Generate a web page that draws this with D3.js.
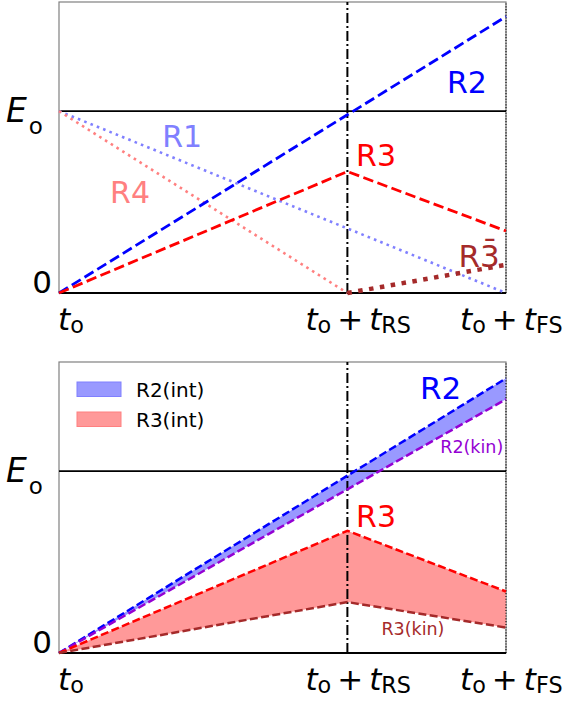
<!DOCTYPE html>
<html>
<head>
<meta charset="utf-8">
<script src="https://cdn.jsdelivr.net/npm/d3@7"></script>
<style>
  html, body { margin: 0; padding: 0; background: #fff; }
  svg { display: block; font-family: "DejaVu Sans", sans-serif; }
</style>
</head>
<body>
<div id="chart"></div>
<script>
// Energy budget sketch: two stacked panels sharing the same time axis.

const E0 = 1;
const T_RS = 1.0;
const T_FS = 1.55;
const times = [0, T_RS, T_FS];

// top panel (values in units of E0, at t0, t0+tRS, t0+tFS)
const topR1 = [1, 0.355, 0];
const topR2 = [0, 0.98, 1.52];
const topR3 = [0, 0.668, 0.341];
const topR4 = [1, 0, null];
const topR3bar = [null, 0, 0.155];

// bottom panel
const botR2int = [0, 0.975, 1.51];
const botR2kin = [0, 0.9, 1.395];
const botR3int = [0, 0.672, 0.338];
const botR3kin = [0, 0.28, 0.14];

const xTickValues = [0, T_RS, T_FS];
const xTickLabels = [
    [['t', 'i'], ['o', 's']],
    [['t', 'i'], ['o', 's'], ['+', 'n'], ['t', 'i'], ['RS', 's']],
    [['t', 'i'], ['o', 's'], ['+', 'n'], ['t', 'i'], ['FS', 's']],
];
const legendLabels = ['R2(int)', 'R3(int)'];

const W = 568, H = 701;
const svg = d3.select('#chart').append('svg').attr('width', W).attr('height', H);
svg.append('rect').attr('width', W).attr('height', H).attr('fill', '#fff');

const x = d3.scaleLinear().domain([0, T_FS]).range([59, 506]);
const Y_MAX = 1.6;

function series(vals) {
    return times.map((t, i) => ({ t, v: vals[i] }));
}

// math-ish label: parts = [[text, kind]] kind i=italic, s=subscript, n=normal
function mathText(g, px, py, parts, size) {
    const txt = g.append('text').attr('x', px).attr('y', py)
        .attr('font-size', size).attr('fill', '#000');
    let shifted = false;
    let afterOp = false;
    parts.forEach(([s, kind]) => {
        const ts = txt.append('tspan').text(s);
        if (kind === 'i') ts.attr('font-style', 'italic');
        if (kind === 's') {
            ts.attr('font-size', size * 0.72);
            if (!shifted) { ts.attr('dy', 3); shifted = true; }
        } else if (shifted) {
            ts.attr('dy', -3); shifted = false;
        }
        if (kind === 'n') { ts.attr('dx', 6); afterOp = true; }
        else if (afterOp) { ts.attr('dx', 6); afterOp = false; }
    });
    return txt;
}

function panel(top, bottom) {
    const g = svg.append('g');
    const y = d3.scaleLinear().domain([0, Y_MAX]).range([bottom, top]);

    // frame
    g.append('rect')
        .attr('x', x(0)).attr('y', y(Y_MAX))
        .attr('width', x(T_FS) - x(0)).attr('height', y(0) - y(Y_MAX))
        .attr('fill', 'none').attr('stroke', '#808080').attr('stroke-width', 1.2);

    // y ticks
    g.append('text').attr('x', 52).attr('y', y(0)).attr('text-anchor', 'end')
        .attr('font-size', 31).text('0');
    const el = g.append('text').attr('x', 6).attr('y', y(E0) + 11).attr('font-size', 33);
    el.append('tspan').attr('font-style', 'italic').text('E');
    el.append('tspan').attr('font-size', 23).attr('dy', 12).attr('dx', 2).text('o');

    // x ticks
    const offs = [-1, -42, -46];
    xTickValues.forEach((t, i) => {
        mathText(g, x(t) + offs[i], y(0) + 37, xTickLabels[i], 31);
    });

    return { g, y };
}

function line(g, y, vals, color, width, dash) {
    const gen = d3.line()
        .defined(d => d.v != null)
        .x(d => x(d.t)).y(d => y(d.v));
    g.append('path').datum(series(vals))
        .attr('fill', 'none').attr('stroke', color)
        .attr('stroke-width', width).attr('stroke-dasharray', dash)
        .attr('d', gen);
}

function refLines(g, y) {
    g.append('line').attr('x1', x(0)).attr('x2', x(T_FS))
        .attr('y1', y(E0)).attr('y2', y(E0))
        .attr('stroke', '#000').attr('stroke-width', 1.6);
    g.append('line').attr('x1', x(0)).attr('x2', x(T_FS))
        .attr('y1', y(0)).attr('y2', y(0))
        .attr('stroke', '#000').attr('stroke-width', 1.8);
    g.append('line').attr('x1', x(T_RS)).attr('x2', x(T_RS))
        .attr('y1', y(0)).attr('y2', y(Y_MAX))
        .attr('stroke', '#000').attr('stroke-width', 2)
        .attr('stroke-dasharray', '10,3,2,3');
    g.append('line').attr('x1', x(T_FS)).attr('x2', x(T_FS))
        .attr('y1', y(0)).attr('y2', y(Y_MAX))
        .attr('stroke', '#000').attr('stroke-width', 1.1)
        .attr('stroke-dasharray', '1.1,1.7');
}

function label(g, y, t, v, s, color, size) {
    g.append('text').attr('x', x(t)).attr('y', y(v))
        .attr('font-size', size).attr('fill', color).text(s);
}

// ---- top panel
const p1 = panel(2, 293);
refLines(p1.g, p1.y);
line(p1.g, p1.y, topR1, '#8080ff', 2.6, '2.6,4.2');
line(p1.g, p1.y, topR4, '#ff8080', 2.6, '2.6,4.2');
line(p1.g, p1.y, topR2, '#0000ff', 2.8, '10.5,4.5');
line(p1.g, p1.y, topR3, '#ff0000', 2.8, '10.5,4.5');
line(p1.g, p1.y, topR3bar, '#a52a2a', 4.5, '4.5,6.5');
label(p1.g, p1.y, 1.345, 1.10, 'R2', '#0000ff', 30);
label(p1.g, p1.y, 0.358, 0.803, 'R1', '#8080ff', 30);
label(p1.g, p1.y, 1.03, 0.698, 'R3', '#ff0000', 30);
label(p1.g, p1.y, 0.177, 0.495, 'R4', '#ff8080', 30);
label(p1.g, p1.y, 1.385, 0.143, 'R3\u0304', '#a52a2a', 31);

// ---- bottom panel
const p2 = panel(362, 653);
const area = d3.area()
    .x(d => x(d.t)).y0(d => p2.y(d.lo)).y1(d => p2.y(d.hi));
p2.g.append('path')
    .datum(times.map((t, i) => ({ t, lo: botR2kin[i], hi: botR2int[i] })))
    .attr('fill', '#9999ff').attr('d', area);
p2.g.append('path')
    .datum(times.map((t, i) => ({ t, lo: botR3kin[i], hi: botR3int[i] })))
    .attr('fill', '#ff9999').attr('d', area);
refLines(p2.g, p2.y);
line(p2.g, p2.y, botR2int, '#0000ff', 2.5, '8,3.4');
line(p2.g, p2.y, botR2kin, '#9400d3', 2.5, '8,3.4');
line(p2.g, p2.y, botR3int, '#ff0000', 2.5, '8,3.4');
line(p2.g, p2.y, botR3kin, '#a52a2a', 2.5, '8,3.4');
label(p2.g, p2.y, 1.252, 1.396, 'R2', '#0000ff', 31);
label(p2.g, p2.y, 1.03, 0.693, 'R3', '#ff0000', 30);
label(p2.g, p2.y, 1.322, 1.10, 'R2(kin)', '#9400d3', 17.5);
label(p2.g, p2.y, 1.118, 0.099, 'R3(kin)', '#a52a2a', 17.5);

// legend
const legColors = [['#9999ff', '#8080ff'], ['#ff9999', '#ff8080']];
legendLabels.forEach((s, i) => {
    const ly = 382 + i * 30;
    p2.g.append('rect').attr('x', 77).attr('y', ly).attr('width', 44).attr('height', 14.5)
        .attr('fill', legColors[i][0]).attr('stroke', legColors[i][1]).attr('stroke-width', 1);
    p2.g.append('text').attr('x', 136).attr('y', ly + 14.5)
        .attr('font-size', 20).attr('fill', '#000').text(s);
});
</script>
</body>
</html>
